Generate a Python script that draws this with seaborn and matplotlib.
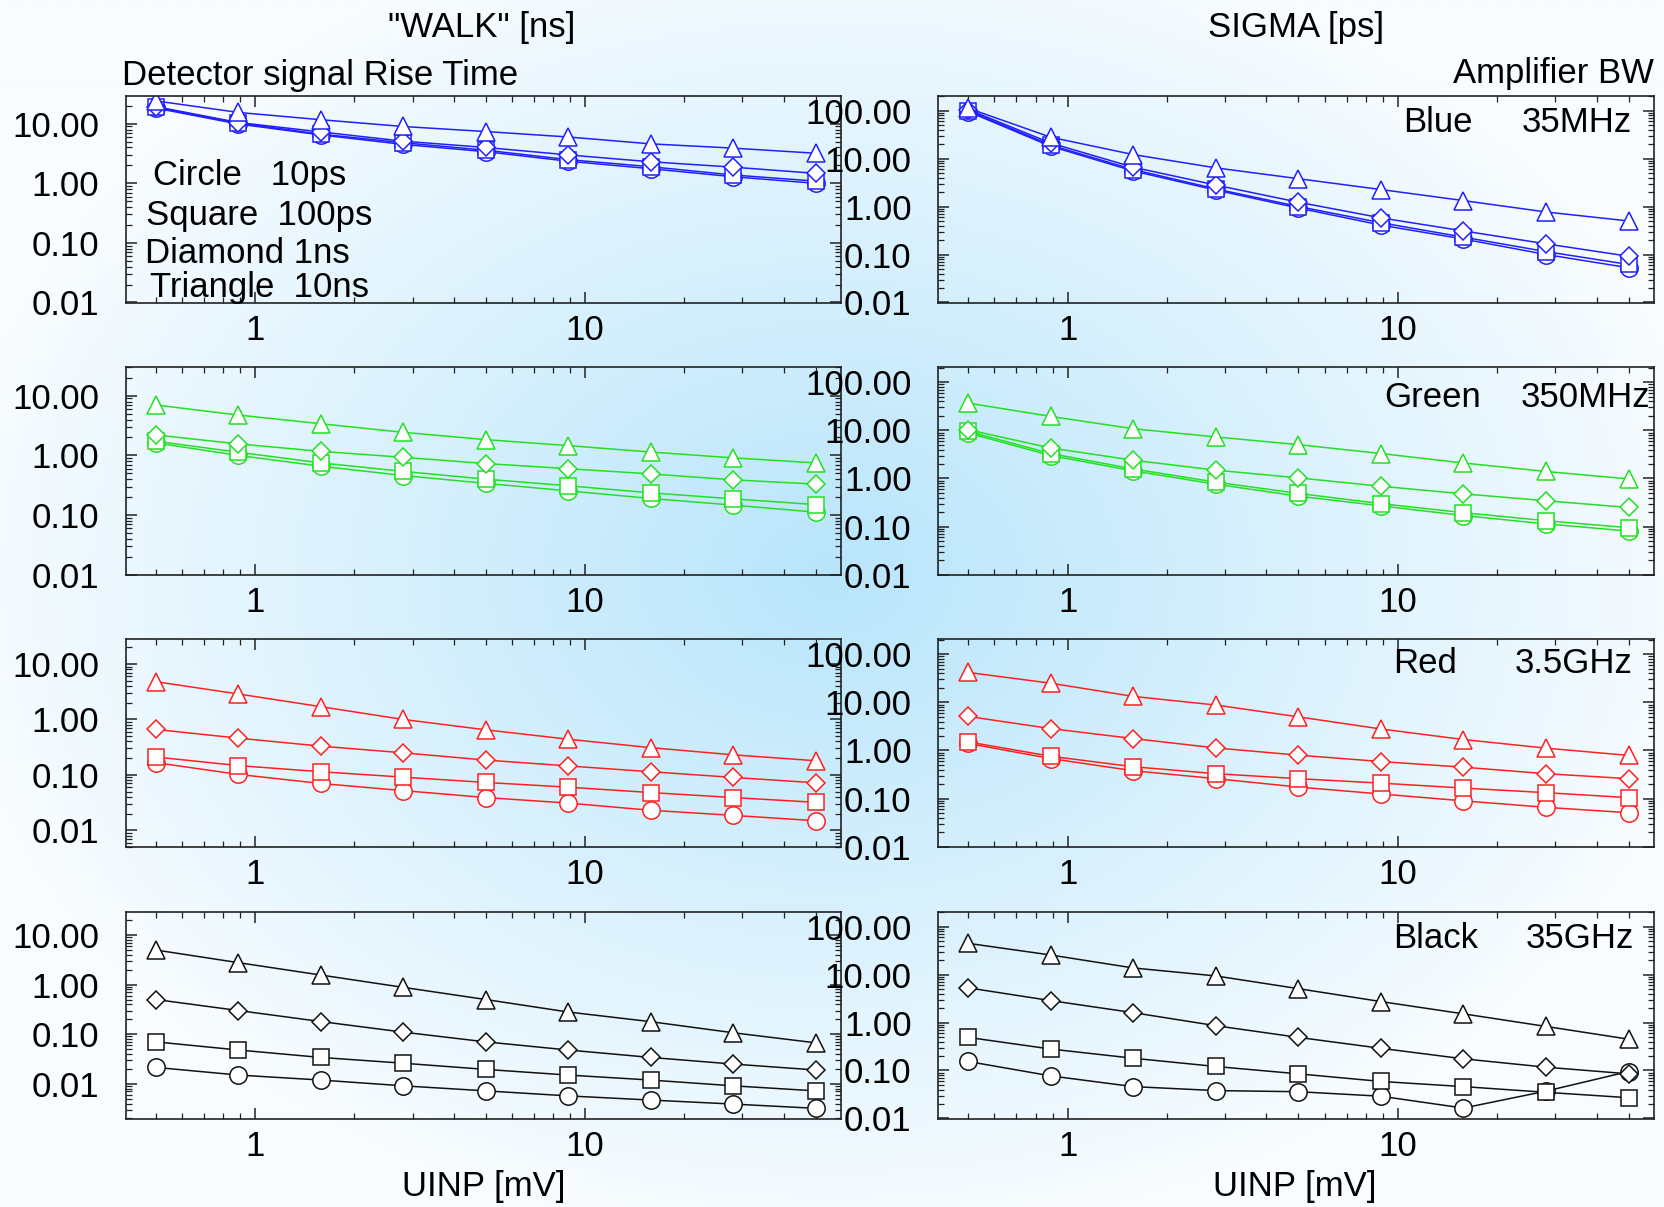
import numpy as np
import pandas as pd
import matplotlib
matplotlib.use("Agg")
import matplotlib.pyplot as plt
import seaborn as sns
from matplotlib.ticker import FixedLocator, FixedFormatter, LogLocator, NullFormatter

sns.set_theme(style="ticks")
plt.rcParams['font.family'] = ['Liberation Sans', 'DejaVu Sans']

# ---------------- data ----------------
uinp = [0.5, 0.889, 1.58, 2.81, 5.0, 8.89, 15.8, 28.1, 50.0]
shapes = ["Circle", "Square", "Diamond", "Triangle"]
rise_times = ["10ps", "100ps", "1ns", "10ns"]
bandwidth_names = ["Blue", "Green", "Red", "Black"]
bandwidth_values = ["35MHz", "350MHz", "3.5GHz", "35GHz"]
x_tick_values = [1, 10]
x_tick_labels = ["1", "10"]
walk_tick_values = [0.01, 0.1, 1, 10]
walk_tick_labels = ["0.01", "0.10", "1.00", "10.00"]
sigma_tick_values = [0.01, 0.1, 1, 10, 100]
sigma_tick_labels = ["0.01", "0.10", "1.00", "10.00", "100.00"]

walk_blue_circle = [18.3, 9.9, 6.5, 4.5, 3.4, 2.35, 1.76, 1.29, 1.0]
walk_blue_square = [19.0, 10.3, 6.7, 4.8, 3.6, 2.5, 1.9, 1.38, 1.09]
walk_blue_diamond = [19.4, 10.5, 7.3, 5.1, 4.0, 3.0, 2.3, 1.87, 1.47]
walk_blue_triangle = [24.2, 15.5, 11.7, 9.0, 7.4, 6.0, 4.6, 3.9, 3.2]

sigma_blue_circle = [95, 18, 5.5, 2.2, 0.93, 0.41, 0.21, 0.10, 0.053]
sigma_blue_square = [100, 19, 5.9, 2.33, 1.0, 0.46, 0.23, 0.115, 0.062]
sigma_blue_diamond = [105, 21, 6.6, 2.8, 1.23, 0.58, 0.31, 0.167, 0.092]
sigma_blue_triangle = [112, 27.8, 12.1, 6.4, 3.8, 2.26, 1.33, 0.77, 0.50]

walk_green_circle = [1.62, 1.0, 0.66, 0.46, 0.34, 0.255, 0.19, 0.147, 0.112]
walk_green_square = [1.73, 1.13, 0.75, 0.54, 0.40, 0.31, 0.236, 0.187, 0.15]
walk_green_diamond = [2.2, 1.56, 1.17, 0.93, 0.73, 0.60, 0.49, 0.39, 0.33]
walk_green_triangle = [7.0, 4.75, 3.4, 2.44, 1.84, 1.46, 1.14, 0.91, 0.75]

sigma_green_circle = [8.8, 3.0, 1.44, 0.76, 0.43, 0.27, 0.17, 0.114, 0.081]
sigma_green_square = [9.5, 3.3, 1.58, 0.84, 0.49, 0.30, 0.195, 0.133, 0.095]
sigma_green_diamond = [10.3, 4.3, 2.4, 1.49, 1.03, 0.69, 0.48, 0.345, 0.25]
sigma_green_triangle = [36.8, 19.5, 10.8, 7.3, 5.05, 3.3, 2.1, 1.4, 0.98]

walk_red_circle = [0.166, 0.102, 0.070, 0.052, 0.039, 0.031, 0.023, 0.0186, 0.0149]
walk_red_square = [0.21, 0.147, 0.114, 0.091, 0.073, 0.06, 0.048, 0.039, 0.032]
walk_red_diamond = [0.66, 0.46, 0.33, 0.25, 0.185, 0.145, 0.114, 0.090, 0.072]
walk_red_triangle = [4.8, 2.88, 1.7, 1.0, 0.65, 0.44, 0.31, 0.23, 0.18]

sigma_red_circle = [1.4, 0.68, 0.38, 0.26, 0.174, 0.125, 0.09, 0.066, 0.051]
sigma_red_square = [1.51, 0.76, 0.46, 0.33, 0.26, 0.21, 0.166, 0.133, 0.105]
sigma_red_diamond = [5.1, 2.85, 1.77, 1.13, 0.80, 0.59, 0.45, 0.33, 0.26]
sigma_red_triangle = [41.8, 25, 13.3, 8.8, 5.0, 2.8, 1.69, 1.12, 0.79]

walk_black_circle = [0.0214, 0.015, 0.0119, 0.0091, 0.0072, 0.0057, 0.0047, 0.0039, 0.0032]
walk_black_square = [0.07, 0.048, 0.034, 0.026, 0.0195, 0.015, 0.0119, 0.0091, 0.0072]
walk_black_diamond = [0.50, 0.30, 0.18, 0.11, 0.070, 0.048, 0.034, 0.025, 0.019]
walk_black_triangle = [4.98, 2.77, 1.56, 0.88, 0.50, 0.28, 0.179, 0.107, 0.067]

sigma_black_circle = [0.154, 0.077, 0.046, 0.038, 0.036, 0.029, 0.0164, 0.037, 0.095]
sigma_black_square = [0.49, 0.28, 0.18, 0.121, 0.085, 0.059, 0.046, 0.035, 0.027]
sigma_black_diamond = [5.3, 2.87, 1.61, 0.86, 0.49, 0.29, 0.175, 0.117, 0.085]
sigma_black_triangle = [45, 25.7, 13.8, 9.4, 5.1, 2.74, 1.52, 0.83, 0.45]

walk_data = [
    [walk_blue_circle, walk_blue_square, walk_blue_diamond, walk_blue_triangle],
    [walk_green_circle, walk_green_square, walk_green_diamond, walk_green_triangle],
    [walk_red_circle, walk_red_square, walk_red_diamond, walk_red_triangle],
    [walk_black_circle, walk_black_square, walk_black_diamond, walk_black_triangle],
]
sigma_data = [
    [sigma_blue_circle, sigma_blue_square, sigma_blue_diamond, sigma_blue_triangle],
    [sigma_green_circle, sigma_green_square, sigma_green_diamond, sigma_green_triangle],
    [sigma_red_circle, sigma_red_square, sigma_red_diamond, sigma_red_triangle],
    [sigma_black_circle, sigma_black_square, sigma_black_diamond, sigma_black_triangle],
]

# ---------------- styling ----------------
W, H = 1665, 1207
FS = 25
line_colors = ["#1f1fff", "#22e022", "#ff2020", "#111111"]
marker_map = {"Circle": "o", "Square": "s", "Diamond": "D", "Triangle": "^"}
marker_size = {"Circle": 12.5, "Square": 11.5, "Diamond": 9.0, "Triangle": 13.0}

walk_ylims = [(0.0099, 29.6), (0.0099, 30.0), (0.005, 27.9), (0.00195, 29.5)]
sigma_ylims = [(0.0099, 204), (0.0099, 204), (0.0099, 204), (0.0097, 206)]
xlim = (0.405, 59.7)

# axes pixel boxes (left, right, top, bottom)
col_x = [(125.7, 841.0), (938.0, 1654.0)]
row_y = [(95.7, 302.7), (367.3, 575.0), (639.3, 847.0), (911.7, 1119.0)]

fig = plt.figure(figsize=(W / 100, H / 100), dpi=100)

# background gradient
bg = fig.add_axes([0, 0, 1, 1], zorder=-10)
yy, xx = np.mgrid[0:H:3, 0:W:3]
r = np.sqrt(((xx - 830) / 880.0) ** 2 + ((yy - 575) / 660.0) ** 2)
t = np.clip(r, 0, 1)[..., None]
c0 = np.array([184, 229, 251]) / 255.0
c1 = np.array([248, 252, 255]) / 255.0
img = c0 * (1 - t) + c1 * t
bg.imshow(img, extent=[0, W, H, 0], aspect="auto", interpolation="bilinear")
bg.set_xlim(0, W)
bg.set_ylim(H, 0)
bg.axis("off")


def px_axes(col, row):
    l, rgt = col_x[col]
    top, bot = row_y[row]
    return fig.add_axes([l / W, 1 - bot / H, (rgt - l) / W, (bot - top) / H])


def style_axes(ax, ylim, yvals, ylabels):
    ax.set_facecolor("none")
    ax.set_xscale("log")
    ax.set_yscale("log")
    ax.set_xlim(*xlim)
    ax.set_ylim(*ylim)
    ax.xaxis.set_major_locator(FixedLocator(x_tick_values))
    ax.xaxis.set_major_formatter(FixedFormatter(x_tick_labels))
    ax.xaxis.set_minor_locator(LogLocator(base=10, subs=np.arange(2, 10), numticks=50))
    ax.xaxis.set_minor_formatter(NullFormatter())
    ax.yaxis.set_major_locator(FixedLocator(yvals))
    ax.yaxis.set_major_formatter(FixedFormatter(ylabels))
    ax.yaxis.set_minor_locator(LogLocator(base=10, subs=np.arange(2, 10), numticks=50))
    ax.yaxis.set_minor_formatter(NullFormatter())
    ax.tick_params(which="both", direction="in", top=True, right=True,
                   color="#222222", labelcolor="black", labelsize=FS)
    ax.tick_params(which="major", length=8, width=1.1)
    ax.tick_params(which="minor", length=4, width=0.9)
    ax.tick_params(axis="x", which="major", pad=8)
    ax.tick_params(axis="y", which="major", pad=19)
    for sp in ax.spines.values():
        sp.set_linewidth(1.2)
        sp.set_color("#222222")
    ax.set_xlabel("")
    ax.set_ylabel("")


def draw_panel(ax, series_list, color):
    for shape, vals in zip(shapes, series_list):
        df = pd.DataFrame({"uinp": uinp, "value": vals})
        sns.lineplot(data=df, x="uinp", y="value", ax=ax, color=color,
                     marker=marker_map[shape], markersize=marker_size[shape],
                     markerfacecolor="white", markeredgecolor=color,
                     markeredgewidth=1.1, linewidth=1.1, sort=False,
                     errorbar=None, legend=False)


for row in range(4):
    axl = px_axes(0, row)
    draw_panel(axl, walk_data[row], line_colors[row])
    style_axes(axl, walk_ylims[row], walk_tick_values, walk_tick_labels)
for row in range(4):
    axr = px_axes(1, row)
    draw_panel(axr, sigma_data[row], line_colors[row])
    style_axes(axr, sigma_ylims[row], sigma_tick_values, sigma_tick_labels)


def ftext(x, y, s, ha="left"):
    fig.text(x / W, 1 - y / H, s, ha=ha, va="baseline", fontsize=FS, color="black")


# titles
ftext(482, 36.7, '"WALK" [ns]', ha="center")
ftext(1296, 36.7, "SIGMA [ps]", ha="center")
ftext(122, 85, "Detector signal Rise Time")
ftext(1654, 83.3, "Amplifier BW", ha="right")

# rise-time key
key_pos = [(153, 185), (146, 225), (145, 263), (150, 296.7)]
key_gap = ["   ", "  ", " ", "  "]
for (kx, ky), shp, gap, rt in zip(key_pos, shapes, key_gap, rise_times):
    ftext(kx, ky, shp + gap + rt)

# bandwidth labels
bw_pos = [(1403, 1632, 131.7), (1384, 1650, 406.7), (1393, 1633, 673.3), (1393, 1634, 948.3)]
for (lx, rx, by), nm, bv in zip(bw_pos, bandwidth_names, bandwidth_values):
    ftext(lx, by, nm)
    ftext(rx, by, bv, ha="right")

# x labels
ftext(484, 1196, "UINP [mV]", ha="center")
ftext(1295, 1196, "UINP [mV]", ha="center")

fig.savefig("out.png", dpi=100)
